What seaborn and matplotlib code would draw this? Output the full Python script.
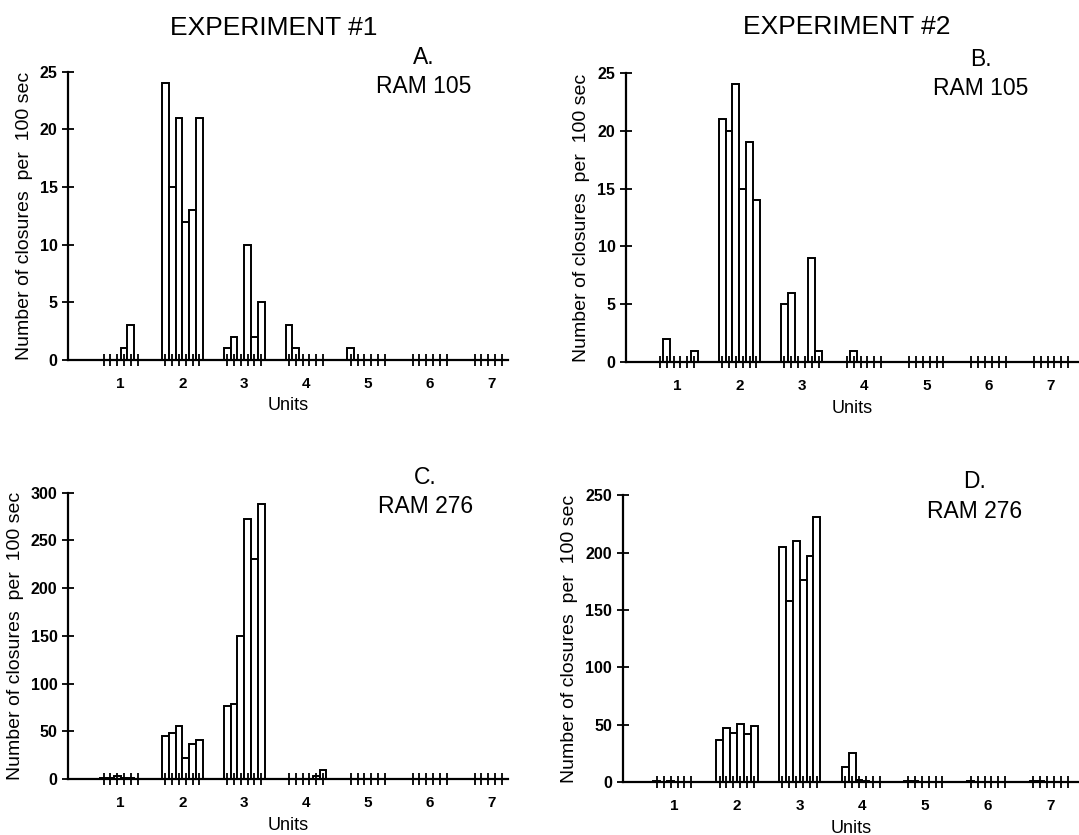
import numpy as np
import pandas as pd
import seaborn as sns
import matplotlib.pyplot as plt
from matplotlib.ticker import FixedLocator

# bar heights, six bins around each integer unit (1..7)
units = [1, 2, 3, 4, 5, 6, 7]

exp1_ram105 = [0, 0, 0, 1, 3, 0,
               24, 15, 21, 12, 13, 21,
               1, 2, 0, 10, 2, 5,
               3, 1, 0, 0, 0, 0,
               1, 0, 0, 0, 0, 0,
               0, 0, 0, 0, 0, 0,
               0, 0, 0, 0, 0, 0]

exp2_ram105 = [0, 2, 0, 0, 0, 1,
               21, 20, 24, 15, 19, 14,
               5, 6, 0, 0, 9, 1,
               0, 1, 0, 0, 0, 0,
               0, 0, 0, 0, 0, 0,
               0, 0, 0, 0, 0, 0,
               0, 0, 0, 0, 0, 0]

exp1_ram276 = [1, 1, 3, 1, 1, 0,
               45, 48, 56, 22, 37, 41,
               77, 79, 150, 272, 231, 288,
               0, 0, 0, 0, 3, 9,
               0, 0, 0, 0, 0, 0,
               0, 0, 0, 0, 0, 0,
               0, 0, 0, 0, 0, 0]

exp2_ram276 = [1, 0, 1, 0, 0, 0,
               37, 47, 43, 51, 42, 49,
               205, 158, 210, 176, 197, 231,
               13, 26, 2, 1, 0, 0,
               1, 1, 0, 0, 0, 0,
               1, 0, 0, 0, 0, 0,
               1, 1, 0, 0, 0, 0]

yticks_105 = [0, 5, 10, 15, 20, 25]
yticks_276c = [0, 50, 100, 150, 200, 250, 300]
yticks_276d = [0, 50, 100, 150, 200, 250]

w = 0.11
centers = np.array([k + (i - 2.5) * w for k in units for i in range(6)])
edges = sorted(set(round(k + (i - 3) * w, 4) for k in units for i in range(7)))

plt.rcParams['font.family'] = ['Liberation Sans', 'DejaVu Sans']

fig = plt.figure(figsize=(10.79, 8.35), dpi=100)

panels = [
    # rect, values, yticks, xlim, letter, ram, label x, label y
    ([0.063, 0.569, 0.408, 0.345], exp1_ram105, yticks_105, (0.15, 7.27), "A.", "RAM 105", 0.393, 0.931),
    ([0.580, 0.566, 0.420, 0.347], exp2_ram105, yticks_105, (0.18, 7.45), "B.", "RAM 105", 0.909, 0.929),
    ([0.063, 0.067, 0.408, 0.343], exp1_ram276, yticks_276c, (0.15, 7.27), "C.", "RAM 276", 0.394, 0.428),
    ([0.577, 0.063, 0.423, 0.344], exp2_ram276, yticks_276d, (0.18, 7.45), "D.", "RAM 276", 0.903, 0.423),
]

for rect, vals, yt, xl, letter, ram, tx, ty in panels:
    ax = fig.add_axes(rect)
    df = pd.DataFrame({"units": centers, "n": vals})
    sns.histplot(data=df, x="units", weights="n", bins=edges, ax=ax,
                 color="white", edgecolor="black", linewidth=1.4, alpha=1)
    ax.set_xlim(*xl)
    ax.set_ylim(0, yt[-1])
    ax.set_yticks(yt)
    ax.set_xticks(units)
    ax.xaxis.set_minor_locator(FixedLocator(centers))
    ax.tick_params(axis="x", which="major", length=0, pad=12, labelsize=11)
    ax.tick_params(axis="x", which="minor", direction="inout", length=8, width=1.3)
    ax.tick_params(axis="y", direction="inout", length=9, width=1.3, labelsize=11.5, pad=3)
    for lab in ax.get_xticklabels() + ax.get_yticklabels():
        lab.set_fontweight("bold")
    for s in ["top", "right"]:
        ax.spines[s].set_visible(False)
    for s in ["left", "bottom"]:
        ax.spines[s].set_linewidth(1.6)
    ax.set_xlabel("Units", fontsize=13, labelpad=5)
    ax.set_ylabel("Number of closures  per  100 sec", fontsize=14, labelpad=5)
    fig.text(tx, ty, letter, ha="center", va="center", fontsize=16.5)
    fig.text(tx, ty - 0.035, ram, ha="center", va="center", fontsize=16.5)

fig.text(0.254, 0.966, "EXPERIMENT #1", ha="center", va="center", fontsize=19)
fig.text(0.785, 0.968, "EXPERIMENT #2", ha="center", va="center", fontsize=19)

fig.savefig("out.png", dpi=100)
